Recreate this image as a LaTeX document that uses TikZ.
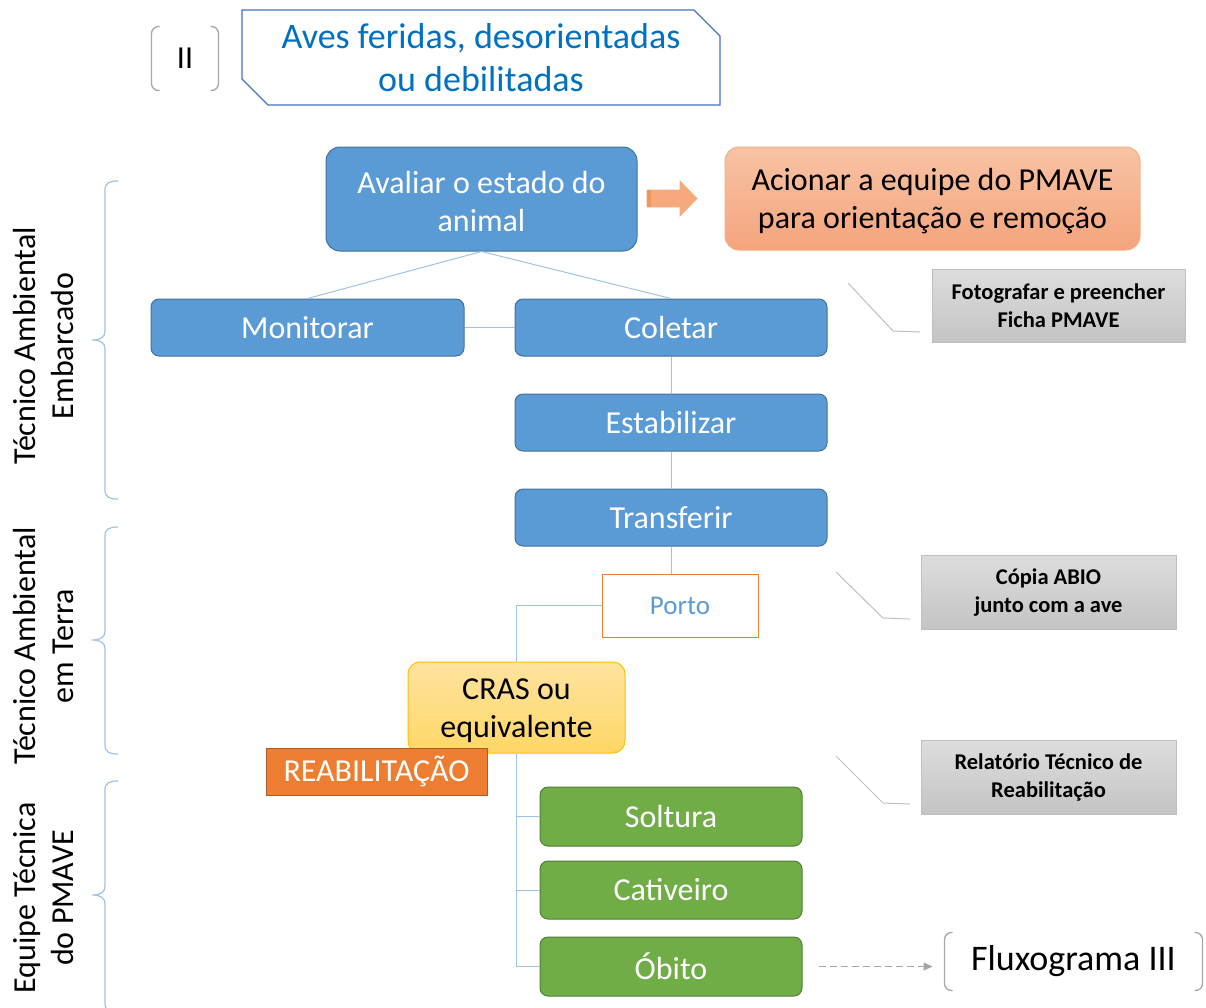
\documentclass[tikz,border=0pt]{standalone}
\usepackage{fontspec}
\setmainfont{Carlito}
\usetikzlibrary{shapes.misc,arrows.meta,calc}
\definecolor{bfill}{HTML}{5B9BD5}
\definecolor{bdraw}{HTML}{41719C}
\definecolor{gfill}{HTML}{70AD47}
\definecolor{gdraw}{HTML}{507E32}
\definecolor{lblue}{HTML}{9DC3E6}
\definecolor{titleblue}{HTML}{0070C0}
\definecolor{titledraw}{HTML}{4472C4}
\definecolor{otop}{HTML}{F8C3A5}
\definecolor{obot}{HTML}{F4A47C}
\definecolor{odraw}{HTML}{F4B183}
\definecolor{orng}{HTML}{ED7D31}
\definecolor{orngdraw}{HTML}{AE5A21}
\definecolor{arrowfill}{HTML}{F5A97C}
\definecolor{ctop}{HTML}{FFE3A0}
\definecolor{cbot}{HTML}{FFD766}
\definecolor{cdraw}{HTML}{FFC000}
\definecolor{gtop}{HTML}{DDDDDD}
\definecolor{gbot}{HTML}{C4C4C4}
\definecolor{gdrw}{HTML}{BFBFBF}
\definecolor{brk}{HTML}{A6A6A6}
\definecolor{callc}{HTML}{BFBFBF}
\tikzset{
  base/.style={inner sep=0pt, align=center, line width=1pt},
  bigfont/.style={font=\fontsize{32}{38}\selectfont},
  bluebox/.style={base, bigfont, draw=bdraw, fill=bfill, text=white, rounded corners=8pt},
  greenbox/.style={base, bigfont, draw=gdraw, fill=gfill, text=white, rounded corners=8pt},
  graybox/.style={base, draw=gdrw, top color=gtop, bottom color=gbot, font=\bfseries\fontsize{22.5}{28}\selectfont},
  link/.style={draw=lblue, line width=1pt},
  callout/.style={draw=callc, line width=1pt},
  bracket/.style={draw=brk, line width=1.3pt, rounded corners=7pt},
  bracelab/.style={draw=lblue, line width=1.2pt},
  sidelabel/.style={rotate=90, align=center, bigfont}
}
% side brace: #1 top y, #2 middle y, #3 bottom y
\newcommand\sidebrace[3]{%
  \draw[bracelab] (118,#1) .. controls (109,#1) and (105,#1+2) .. (105,#1+9)
    -- (105,#2-9) .. controls (105,#2-3) and (101,#2) .. (92,#2)
    .. controls (101,#2) and (105,#2+3) .. (105,#2+9)
    -- (105,#3-9) .. controls (105,#3-2) and (109,#3) .. (118,#3);}
\begin{document}
\begin{tikzpicture}[x=1pt,y=-1pt]
\useasboundingbox (0,0) rectangle (1206,1007);

% header
\node[base, bigfont, minimum width=66pt, minimum height=63pt] (ii) at (185,58.5) {II};
\draw[bracket] ($(ii.north west)+(8,0)$) -- (ii.north west) -- (ii.south west) -- ($(ii.south west)+(8,0)$);
\draw[bracket] ($(ii.north east)+(-8,0)$) -- (ii.north east) -- (ii.south east) -- ($(ii.south east)+(-8,0)$);
\node[base, chamfered rectangle, chamfered rectangle corners={north east,south west}, chamfered rectangle sep=13pt,
      draw=titledraw, line width=1.2pt, text=titleblue, minimum width=478pt, minimum height=95pt,
      font=\fontsize{36}{43}\selectfont] (title) at (481,57.5) {Aves feridas, desorientadas\\ou debilitadas};

% main boxes
\node[bluebox, rounded corners=14pt, minimum width=311pt, minimum height=104pt] (aval) at (481.5,199) {\strut Avaliar o estado do\\animal};
\node[base, bigfont, draw=odraw, top color=otop, bottom color=obot, rounded corners=14pt, minimum width=415pt, minimum height=103pt] (acio) at (932.5,198.5) {\strut Acionar a equipe do PMAVE\\para orientação e remoção};
\node[bluebox, minimum width=313pt, minimum height=57pt] (moni) at (307.5,327.5) {Monitorar};
\node[bluebox, minimum width=312pt, minimum height=57pt] (cole) at (671,327.5) {Coletar};
\node[bluebox, minimum width=312pt, minimum height=57pt] (esta) at (671,422.5) {Estabilizar};
\node[bluebox, minimum width=312pt, minimum height=57pt] (tran) at (671,517.5) {Transferir};
\node[base, draw=orng, fill=white, text=bfill, minimum width=156pt, minimum height=63pt, font=\fontsize{27}{32}\selectfont] (porto) at (680,605.5) {Porto};
\node[base, bigfont, draw=cdraw, top color=ctop, bottom color=cbot, rounded corners=12pt, minimum width=217pt, minimum height=91pt] (cras) at (516.5,707.5) {\strut CRAS ou\\equivalente};
\node[base, bigfont, draw=orngdraw, fill=orng, text=white, minimum width=221pt, minimum height=47pt] (reab) at (376.5,771.5) {REABILITAÇÃO};
\node[greenbox, minimum width=262pt, minimum height=59pt] (solt) at (671,816.5) {Soltura};
\node[greenbox, minimum width=262pt, minimum height=58pt] (cati) at (671,890) {Cativeiro};
\node[greenbox, minimum width=262pt, minimum height=59pt] (obit) at (671,966.5) {Óbito};

% note boxes
\node[graybox, minimum width=253pt, minimum height=73pt] (foto) at (1058.5,305.5) {Fotografar e preencher\\Ficha PMAVE};
\node[graybox, minimum width=255pt, minimum height=74pt] (copia) at (1048.5,592) {Cópia ABIO\\junto com a ave};
\node[graybox, minimum width=255pt, minimum height=74pt] (rela) at (1048.5,777) {Relatório Técnico de\\Reabilitação};

% Fluxograma III
\node[base, minimum width=257pt, minimum height=57pt, font=\fontsize{36}{43}\selectfont] (flux) at (1073.5,961.5) {Fluxograma III};
\draw[bracket] ($(flux.north west)+(8,0)$) -- (flux.north west) -- (flux.south west) -- ($(flux.south west)+(8,0)$);
\draw[bracket] ($(flux.north east)+(-8,0)$) -- (flux.north east) -- (flux.south east) -- ($(flux.south east)+(-8,0)$);

% block arrow between Avaliar and Acionar
\coordinate (ar) at (647,198.5);
\filldraw[fill=arrowfill, draw=odraw, line width=0.8pt] (ar) ++(0,-8.5) -- ++(33,0) -- ++(0,-9) -- ++(17,17.5) -- ++(-17,17.5) -- ++(0,-9) -- ++(-33,0) -- cycle;
\fill[orng!80] (ar) ++(0,-8.5) rectangle ++(4,17);

% connectors
\draw[link] (aval.south) -- (moni.north);
\draw[link] (aval.south) -- (cole.north);
\draw[link] (moni.east) -- (cole.west);
\draw[link] (cole.south) -- (esta.north);
\draw[link] (esta.south) -- (tran.north);
\draw[link] (tran.south) -- (tran.south |- porto.north);
\draw[link] (porto.west) -| (cras.north);
\draw[link] (cras.south) |- (solt.west);
\draw[link] (cras.south) |- (cati.west);
\draw[link] (cras.south) |- (obit.west);

\coordinate (dashA) at ($(obit.east)+(16,0)$);
\coordinate (dashB) at ($(flux.west |- obit.east)+(-12,0)$);
\draw[draw=brk, line width=1.6pt, dash pattern=on 7pt off 4pt, -{Triangle[length=9pt,width=8pt]}] (dashA) -- (dashB);

% callout lines
\coordinate (f1) at (848,283); \coordinate (f2) at (893,331); \coordinate (f3) at (920,332);
\draw[callout] (f1) -- (f2) -- (f3);
\coordinate (c1) at (836,572); \coordinate (c2) at (883,618); \coordinate (c3) at (910,619);
\draw[callout] (c1) -- (c2) -- (c3);
\coordinate (r1) at (836,756); \coordinate (r2) at (883,803); \coordinate (r3) at (910,804);
\draw[callout] (r1) -- (r2) -- (r3);

% side braces and labels
\sidebrace{181}{340}{499}
\sidebrace{527}{640}{754}
\sidebrace{781}{895}{1012}
\node[sidelabel] (lab1) at (44,346) {Técnico Ambiental\\Embarcado};
\node[sidelabel] (lab2) at (44,646) {Técnico Ambiental\\em Terra};
\node[sidelabel] (lab3) at (44,898) {Equipe Técnica\\do PMAVE};
\end{tikzpicture}
\end{document}
